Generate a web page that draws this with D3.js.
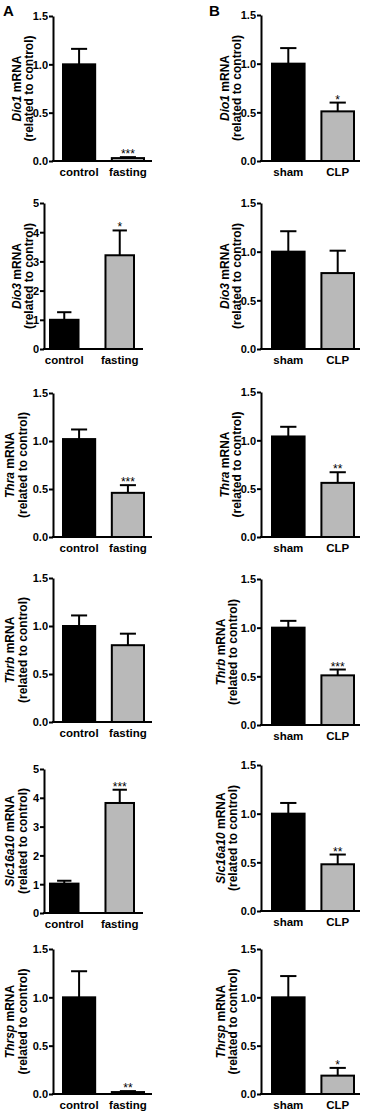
<!DOCTYPE html>
<html>
<head>
<meta charset="utf-8">
<script src="https://cdn.jsdelivr.net/npm/d3@7"></script>
<style>
  body { margin: 0; background: #fff; }
  svg text { font-family: "Liberation Sans", Arial, sans-serif; font-weight: bold; fill: #000; }
</style>
</head>
<body>
<div id="chart"></div>
<script>
// ---- data ----
const genes = ['Dio1', 'Dio3', 'Thra', 'Thrb', 'Slc16a10', 'Thrsp'];
const groupsA = ['control', 'fasting'];
const groupsB = ['sham', 'CLP'];

const meansA = [[1.00, 0.03], [1.00, 3.21], [1.02, 0.46], [1.00, 0.80], [1.02, 3.82], [1.00, 0.02]];
const errA   = [[1.16, 0.04], [1.26, 4.06], [1.12, 0.54], [1.11, 0.92], [1.12, 4.28], [1.27, 0.03]];
const starsA = ['***', '*', '***', '', '***', '**'];
const yMaxA  = [1.5, 5, 1.5, 1.5, 5, 1.5];

const meansB = [[1.00, 0.51], [1.00, 0.78], [1.04, 0.56], [1.00, 0.51], [1.00, 0.48], [1.00, 0.19]];
const errB   = [[1.16, 0.60], [1.21, 1.01], [1.14, 0.67], [1.07, 0.57], [1.11, 0.58], [1.22, 0.27]];
const starsB = ['*', '', '**', '***', '**', '*'];
const yMaxB  = [1.5, 1.5, 1.5, 1.5, 1.5, 1.5];

const ticks15 = [0, 0.5, 1.0, 1.5];
const ticks5 = [0, 1, 2, 3, 4, 5];

// ---- layout (pixels) ----
const width = 366, height = 1115;
const rowTopA = [16, 203, 393, 578, 769, 949];
const rowBotA = [161, 349, 537, 722, 913, 1094];
const rowTopB = [15, 203, 392, 579, 765, 949];
const rowBotB = [161, 349, 537, 725, 911, 1094];
// y-label baselines (line 1, line 2)
const labA = [[21, 33], [21, 33], [14, 27], [14, 27], [14, 27], [14, 27]];
const labB = [[229, 241], [229, 241], [229, 241], [225, 237], [225, 237], [225, 237]];

const svg = d3.select('#chart').append('svg')
    .attr('width', width)
    .attr('height', height);

function drawPanel(cfg) {
    const g = svg.append('g');
    const y = d3.scaleLinear().domain([0, cfg.yMax]).range([cfg.bottom, cfg.top]);
    const x = d3.scaleBand().domain(cfg.groups)
        .range([cfg.band[0], cfg.band[1]])
        .paddingInner(cfg.pad).paddingOuter(0);

    const data = cfg.groups.map((k, i) => ({ k: k, v: cfg.means[i], e: cfg.errs[i], i: i }));

    // error bars (upper only)
    const cap = x.bandwidth() * 0.47;
    data.forEach(d => {
        const cx = x(d.k) + x.bandwidth() / 2;
        g.append('line')
            .attr('x1', cx).attr('x2', cx)
            .attr('y1', y(d.v)).attr('y2', y(d.e))
            .attr('stroke', '#000').attr('stroke-width', 2);
        g.append('line')
            .attr('x1', cx - cap / 2).attr('x2', cx + cap / 2)
            .attr('y1', y(d.e)).attr('y2', y(d.e))
            .attr('stroke', '#000').attr('stroke-width', 2);
    });

    // bars
    g.selectAll('.bar').data(data).enter()
        .append('rect')
        .attr('class', 'bar')
        .attr('x', d => x(d.k) + 1)
        .attr('width', x.bandwidth() - 2)
        .attr('y', d => y(d.v))
        .attr('height', d => Math.max(0, cfg.bottom - y(d.v)))
        .attr('fill', d => d.i === 0 ? '#000' : '#b9b9b9')
        .attr('stroke', '#000')
        .attr('stroke-width', 2);

    // significance stars
    if (cfg.star) {
        const d = data[1];
        g.append('text')
            .attr('x', x(d.k) + x.bandwidth() / 2)
            .attr('y', y(d.e) + 1)
            .attr('text-anchor', 'middle')
            .style('font-size', '12px')
            .style('font-weight', 'normal')
            .text(cfg.star);
    }

    // y axis
    const yAxis = d3.axisLeft(y)
        .tickValues(cfg.yMax > 2 ? ticks5 : ticks15)
        .tickFormat(cfg.yMax > 2 ? d3.format('d') : d3.format('.1f'))
        .tickSize(4).tickSizeOuter(0).tickPadding(1);
    const ya = g.append('g')
        .attr('transform', `translate(${cfg.axisX},0)`)
        .call(yAxis);
    ya.select('.domain').attr('stroke-width', 2);
    ya.selectAll('.tick line').attr('stroke-width', 2);
    ya.selectAll('.tick text')
        .attr('dy', '0.36em')
        .style('font-size', '11px')
        .style('font-family', '"Liberation Sans", Arial, sans-serif')
        .style('font-weight', 'bold');

    // x axis: baseline + category labels
    g.append('line')
        .attr('x1', cfg.axisX - 1).attr('x2', cfg.axisEnd)
        .attr('y1', cfg.bottom).attr('y2', cfg.bottom)
        .attr('stroke', '#000').attr('stroke-width', 2);
    const xAxis = d3.axisBottom(x).tickSize(0).tickPadding(7);
    const xa = g.append('g')
        .attr('transform', `translate(0,${cfg.bottom})`)
        .call(xAxis);
    xa.select('.domain').remove();
    xa.selectAll('.tick text')
        .attr('dy', '0.71em')
        .style('font-size', '11.5px')
        .style('font-family', '"Liberation Sans", Arial, sans-serif')
        .style('font-weight', 'bold');

    // y label, two lines rotated
    const midY = (cfg.top + cfg.bottom) / 2;
    const t1 = g.append('text')
        .attr('transform', `translate(${cfg.lab[0]},${midY}) rotate(-90)`)
        .attr('text-anchor', 'middle')
        .style('font-size', '12px');
    t1.append('tspan').style('font-style', 'italic').text(cfg.gene);
    t1.append('tspan').text(' mRNA');
    g.append('text')
        .attr('transform', `translate(${cfg.lab[1]},${midY}) rotate(-90)`)
        .attr('text-anchor', 'middle')
        .style('font-size', '12px')
        .text('(related to control)');
}

genes.forEach((gene, r) => {
    const big = yMaxA[r] > 2;
    drawPanel({
        gene: gene, groups: groupsA, means: meansA[r].slice(), errs: errA[r],
        star: starsA[r], yMax: yMaxA[r],
        top: rowTopA[r], bottom: rowBotA[r],
        axisX: big ? 44 : 53, axisEnd: big ? 143 : 152,
        band: big ? [49, 135] : [62, 145], pad: big ? 0.45 : 0.3,
        lab: labA[r]
    });
    drawPanel({
        gene: gene, groups: groupsB, means: meansB[r], errs: errB[r],
        star: starsB[r], yMax: yMaxB[r],
        top: rowTopB[r], bottom: rowBotB[r],
        axisX: 261, axisEnd: 360,
        band: [271, 355], pad: 0.3,
        lab: labB[r]
    });
});

// panel letters
svg.append('text').attr('x', 3).attr('y', 16).style('font-size', '15px').text('A');
svg.append('text').attr('x', 209).attr('y', 16).style('font-size', '15px').text('B');
</script>
</body>
</html>
